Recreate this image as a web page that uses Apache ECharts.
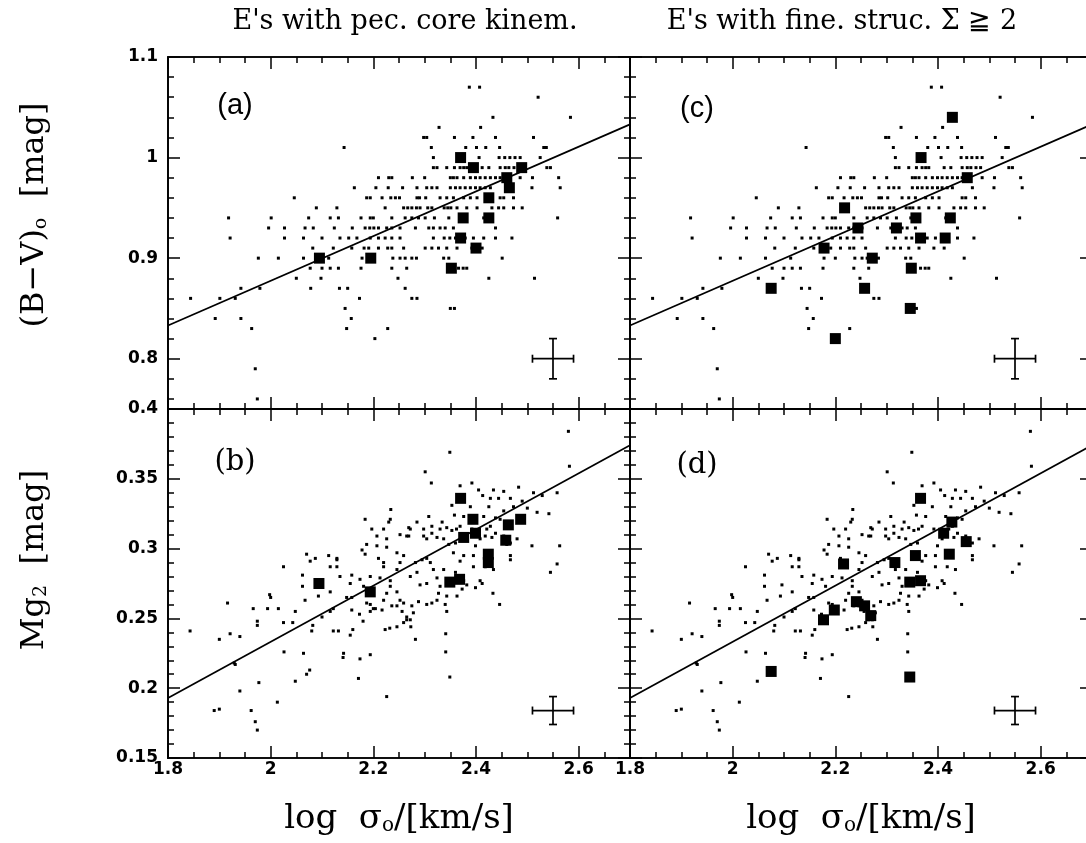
<!DOCTYPE html>
<html><head><meta charset="utf-8">
<script src="https://cdn.jsdelivr.net/npm/echarts@6/dist/echarts.min.js"></script>
<style>html,body{margin:0;padding:0;background:#fff}#c{width:1086px;height:843px}</style>
</head><body><div id="c"></div>
<script>
// ---------- axes / ticks ----------
const xRange = [1.8, 2.7];
const bvRange = [0.75, 1.1];
const mgRange = [0.15, 0.4];
const xMajorTicks = [1.8, 2.0, 2.2, 2.4, 2.6];
const xMinorTicks = [1.85, 1.9, 1.95, 2.05, 2.1, 2.15, 2.25, 2.3, 2.35, 2.45, 2.5, 2.55, 2.65];
const bvMajorTicks = [0.8, 0.9, 1.0, 1.1];
const bvMinorTicks = [0.76, 0.78, 0.82, 0.84, 0.86, 0.88, 0.92, 0.94, 0.96, 0.98, 1.02, 1.04, 1.06, 1.08];
const mgMajorTicks = [0.15, 0.2, 0.25, 0.3, 0.35, 0.4];
const mgMinorTicks = [0.16, 0.17, 0.18, 0.19, 0.21, 0.22, 0.23, 0.24, 0.26, 0.27, 0.28, 0.29, 0.31, 0.32, 0.33, 0.34, 0.36, 0.37, 0.38, 0.39];

// ---------- background sample (B-V), values quantised in rows ----------
const bvFieldRows = [1.07, 1.06, 1.04, 1.03, 1.02, 1.01, 1.00, 0.99, 0.98, 0.97, 0.96, 0.95, 0.94, 0.93, 0.92, 0.91, 0.90, 0.89, 0.88, 0.87, 0.86, 0.85, 0.84, 0.83, 0.82, 0.79, 0.76];
const bvFieldX = [
  [2.387, 2.407],
  [2.521],
  [2.433, 2.584],
  [2.328, 2.409],
  [2.298, 2.304, 2.358, 2.394, 2.438, 2.512],
  [2.143, 2.313, 2.380, 2.401, 2.419, 2.446, 2.532, 2.537],
  [2.317, 2.406, 2.445, 2.456, 2.466, 2.476, 2.486, 2.525],
  [2.317, 2.324, 2.343, 2.358, 2.369, 2.376, 2.382, 2.412, 2.425, 2.447, 2.457, 2.464, 2.474, 2.483, 2.538, 2.545],
  [2.210, 2.230, 2.236, 2.276, 2.300, 2.350, 2.356, 2.363, 2.376, 2.389, 2.399, 2.408, 2.418, 2.428, 2.438, 2.447, 2.486, 2.510, 2.561],
  [2.163, 2.205, 2.229, 2.257, 2.285, 2.304, 2.314, 2.324, 2.350, 2.360, 2.369, 2.379, 2.389, 2.399, 2.408, 2.418, 2.428, 2.467, 2.509, 2.564],
  [2.046, 2.187, 2.194, 2.217, 2.234, 2.243, 2.251, 2.285, 2.290, 2.302, 2.330, 2.343, 2.356, 2.376, 2.389, 2.402, 2.447, 2.454, 2.473],
  [2.089, 2.129, 2.223, 2.259, 2.267, 2.275, 2.284, 2.291, 2.306, 2.314, 2.338, 2.345, 2.351, 2.363, 2.382, 2.402, 2.431, 2.444, 2.454, 2.473, 2.490],
  [1.918, 2.001, 2.074, 2.116, 2.132, 2.176, 2.194, 2.200, 2.236, 2.262, 2.275, 2.288, 2.301, 2.319, 2.347, 2.415, 2.559],
  [1.996, 2.027, 2.067, 2.083, 2.124, 2.159, 2.184, 2.193, 2.201, 2.210, 2.226, 2.236, 2.252, 2.282, 2.308, 2.317, 2.330, 2.340, 2.356, 2.438],
  [1.921, 2.027, 2.064, 2.100, 2.135, 2.152, 2.168, 2.194, 2.210, 2.223, 2.236, 2.252, 2.317, 2.338, 2.349, 2.360, 2.379, 2.395, 2.415, 2.438, 2.470],
  [2.082, 2.122, 2.158, 2.182, 2.191, 2.210, 2.228, 2.236, 2.259, 2.301, 2.314, 2.327, 2.343, 2.363, 2.392, 2.412],
  [1.976, 2.015, 2.064, 2.113, 2.178, 2.200, 2.238, 2.252, 2.262, 2.275, 2.284, 2.337, 2.347, 2.451],
  [2.077, 2.100, 2.116, 2.132, 2.176, 2.236, 2.265, 2.366, 2.375, 2.382],
  [2.050, 2.098, 2.248, 2.425, 2.514],
  [1.942, 1.979, 2.078, 2.134, 2.150, 2.262],
  [1.844, 1.901, 1.931, 2.173, 2.275, 2.285],
  [2.145, 2.350, 2.358],
  [1.892, 1.942, 2.157],
  [1.963, 2.148, 2.228],
  [2.203],
  [1.970],
  [1.974]
];

// ---------- background sample (Mg2) ----------
const mgField = [
  [2.349,0.369],[2.301,0.355],[2.582,0.359],[2.580,0.384],[2.313,0.347],
  [2.369,0.345],[2.392,0.347],[2.405,0.342],[2.434,0.342],[2.483,0.344],[2.454,0.341],[2.413,0.338],[2.428,0.336],[2.444,0.336],[2.467,0.336],[2.490,0.334],[2.512,0.340],[2.529,0.338],[2.353,0.331],[2.389,0.330],[2.425,0.330],[2.473,0.330],[2.454,0.327],[2.500,0.329],[2.519,0.326],[2.542,0.325],[2.558,0.340],[2.358,0.324],[2.376,0.323],[2.415,0.323],[2.438,0.322],[2.447,0.321],[2.428,0.316],[2.421,0.314],[2.438,0.311],[2.392,0.314],[2.369,0.316],[2.362,0.314],[2.353,0.313],[2.343,0.315],[2.334,0.319],[2.314,0.316],[2.298,0.314],[2.285,0.319],[2.272,0.314],[2.269,0.309],[2.298,0.309],[2.304,0.307],[2.324,0.308],[2.337,0.307],[2.347,0.303],[2.360,0.304],[2.408,0.307],[2.418,0.309],[2.431,0.308],[2.454,0.309],[2.467,0.304],[2.509,0.302],[2.563,0.302],[2.558,0.289],[2.545,0.283],[2.467,0.292],[2.434,0.285],[2.418,0.287],[2.399,0.302],[2.395,0.295],[2.376,0.295],[2.369,0.291],[2.356,0.297],[2.395,0.287],[2.412,0.275],[2.399,0.272],[2.373,0.271],[2.363,0.266],[2.376,0.277],[2.343,0.266],[2.340,0.260],[2.343,0.255],[2.330,0.273],[2.324,0.279],[2.337,0.285],[2.311,0.290],[2.317,0.285],[2.304,0.293],[2.295,0.292],[2.282,0.290],[2.272,0.280],[2.285,0.283],[2.291,0.274],[2.304,0.275],[2.327,0.268],[2.314,0.261],[2.304,0.260],[2.288,0.262],[2.275,0.259],[2.259,0.261],[2.256,0.255],[2.265,0.251],[2.272,0.249],[2.273,0.244],[2.282,0.235],[2.252,0.263],[2.246,0.269],[2.233,0.273],[2.226,0.268],[2.220,0.263],[2.236,0.259],[2.246,0.259],[2.217,0.256],[2.204,0.257],[2.194,0.260],[2.187,0.261],[2.158,0.256],[2.158,0.265],[2.158,0.281],[2.181,0.273],[2.174,0.278],[2.194,0.280],[2.213,0.279],[2.233,0.277],[2.246,0.285],[2.252,0.290],[2.259,0.295],[2.246,0.297],[2.226,0.301],[2.207,0.302],[2.220,0.290],[2.220,0.287],[2.210,0.293],[2.178,0.299],[2.184,0.296],[2.187,0.303],[2.207,0.309],[2.220,0.314],[2.226,0.307],[2.252,0.310],[2.265,0.309],[2.269,0.315],[2.233,0.321],[2.230,0.319],[2.234,0.328],[2.184,0.321],[2.197,0.314],[2.308,0.323],[2.314,0.311],[2.330,0.314],
  [2.070,0.296],[2.087,0.293],[2.113,0.295],[2.129,0.293],[2.129,0.292],[2.129,0.287],[2.116,0.287],[2.077,0.291],[2.062,0.281],[2.062,0.273],[2.025,0.287],[2.067,0.263],[2.096,0.274],[2.093,0.266],[2.116,0.269],[2.135,0.280],[2.148,0.265],[2.155,0.275],[2.122,0.257],[2.116,0.255],[2.100,0.251],[2.082,0.245],[2.080,0.241],[2.122,0.241],[2.132,0.241],[2.155,0.238],[2.160,0.242],[2.173,0.253],[2.180,0.248],[2.194,0.255],[2.200,0.257],[2.223,0.242],[2.232,0.243],[2.246,0.244],[2.259,0.247],[2.265,0.249],[2.278,0.254],[2.324,0.263],[2.341,0.239],[2.341,0.226],[2.349,0.208],[2.360,0.283],[2.373,0.279],[2.382,0.274],[2.408,0.277],[2.433,0.268],[2.446,0.260],[2.467,0.295],[2.460,0.303],[2.480,0.307],
  [1.843,0.241],[1.900,0.235],[1.916,0.261],[1.921,0.239],[1.940,0.237],[1.966,0.257],[1.974,0.248],[1.974,0.245],[1.998,0.267],[2.000,0.265],[1.994,0.257],[2.015,0.257],[2.025,0.247],[2.048,0.255],[2.043,0.247],[2.026,0.226],[2.064,0.225],[2.142,0.225],[2.141,0.222],[2.174,0.221],[2.194,0.224],[1.929,0.218],[1.931,0.217],[1.977,0.204],[1.940,0.198],[1.890,0.184],[1.900,0.185],[1.962,0.184],[1.970,0.176],[1.974,0.170],[2.013,0.190],[2.048,0.205],[2.070,0.210],[2.076,0.213],[2.171,0.207],[2.226,0.194]
];

// ---------- highlighted galaxies ----------
const bvPec = [[2.095,0.90],[2.195,0.90],[2.370,1.00],[2.395,0.99],[2.460,0.98],[2.489,0.99],[2.465,0.97],[2.425,0.96],[2.375,0.94],[2.425,0.94],[2.370,0.92],[2.400,0.91],[2.352,0.89]];
const mgPec = [[2.094,0.275],[2.194,0.269],[2.370,0.336],[2.394,0.321],[2.463,0.317],[2.487,0.321],[2.376,0.308],[2.399,0.311],[2.458,0.306],[2.424,0.296],[2.424,0.290],[2.349,0.276],[2.368,0.278]];
const bvFine = [[2.428,1.04],[2.367,1.00],[2.457,0.98],[2.218,0.95],[2.244,0.93],[2.319,0.93],[2.357,0.94],[2.424,0.94],[2.366,0.92],[2.414,0.92],[2.178,0.91],[2.272,0.90],[2.348,0.89],[2.075,0.87],[2.257,0.87],[2.346,0.85],[2.200,0.82]];
const mgFine = [[2.366,0.336],[2.427,0.319],[2.411,0.311],[2.455,0.305],[2.356,0.295],[2.422,0.296],[2.316,0.290],[2.216,0.289],[2.345,0.276],[2.366,0.277],[2.241,0.262],[2.257,0.259],[2.269,0.252],[2.198,0.256],[2.177,0.249],[2.075,0.212],[2.345,0.208]];

// ---------- fit lines and typical error bars ----------
const fitBV = [[1.8,0.833],[2.7,1.033]];
const fitMg = [[1.8,0.193],[2.7,0.374]];
const errBV = [[2.55,0.80,0.04,0.02]];
const errMg = [[2.55,0.184,0.04,0.01]];

// ---------- text ----------
const panelTitles = ["E's with pec. core kinem.", "E's with fine. struc. \u03A3 \u2267 2"];
const panelTags = ['(a)','(b)','(c)','(d)'];
const yNames = ['{t|(B\u2212V)}{s|o}{t|  [mag]}', '{t|Mg}{s|2}{t|  [mag]}'];
const xName = '{t|log  \u03C3}{s|o}{t|/[km/s]}';

// build background (B-V) pairs from rows
const bvField = [];
bvFieldRows.forEach((y,i)=>bvFieldX[i].forEach(x=>bvField.push([x,y])));

const grids = [
  {left:168, top:57,  width:462, height:352},
  {left:168, top:409, width:462, height:349},
  {left:630, top:57,  width:462, height:352},
  {left:630, top:409, width:462, height:349}
];
const isBV = [true,false,true,false];
const tickFont = {fontFamily:'DejaVu Sans', fontWeight:'bold', fontSize:17, color:'#000'};
const black = '#000';

const xAxes = [], yAxes = [];
for (let g=0; g<4; g++){
  ['bottom','top'].forEach(pos=>{
    [true,false].forEach(major=>{
      const ax = {
        type:'value', gridIndex:g, position:pos, min:xRange[0], max:xRange[1],
        axisLine:{show:true, onZero:false, lineStyle:{color:black, width:1.7}},
        axisTick:{show:true, inside:true, length: major?12:6, customValues: major?xMajorTicks:xMinorTicks, lineStyle:{color:black, width:1.5}},
        axisLabel:Object.assign({show: major && pos==='bottom' && !isBV[g], customValues:xMajorTicks, margin:3}, tickFont),
        splitLine:{show:false}, minorTick:{show:false}
      };
      if (major && pos==='bottom' && !isBV[g]){
        ax.name = xName;
        ax.nameLocation = 'middle';
        ax.nameGap = 44;
        ax.nameTextStyle = {rich:{t:{fontFamily:'DejaVu Serif', fontSize:34, color:black}, s:{fontFamily:'DejaVu Serif', fontSize:20, color:black, verticalAlign:'bottom'}}};
      }
      xAxes.push(ax);
    });
  });
  ['left','right'].forEach(pos=>{
    [true,false].forEach(major=>{
      const rng = isBV[g]?bvRange:mgRange;
      yAxes.push({
        type:'value', gridIndex:g, position:pos, min:rng[0], max:rng[1],
        axisLine:{show:true, onZero:false, lineStyle:{color:black, width:1.7}},
        axisTick:{show:true, inside:true, length: major?12:6,
          customValues: major?(isBV[g]?bvMajorTicks:mgMajorTicks):(isBV[g]?bvMinorTicks:mgMinorTicks),
          lineStyle:{color:black, width:1.5}},
        axisLabel:Object.assign({show: major && pos==='left' && g<2, customValues: isBV[g]?bvMajorTicks:mgMajorTicks, margin:10}, tickFont),
        splitLine:{show:false}, minorTick:{show:false}
      });
    });
  });
}

const highlighted = [bvPec, mgPec, bvFine, mgFine];
const series = [];
function errRender(params, api){
  const x=api.value(0), y=api.value(1), dx=api.value(2), dy=api.value(3);
  const l=api.coord([x-dx,y]), r=api.coord([x+dx,y]), t=api.coord([x,y+dy]), b=api.coord([x,y-dy]);
  const c=4, st={stroke:black, lineWidth:1.7};
  return {type:'group', children:[
    {type:'line', shape:{x1:l[0],y1:l[1],x2:r[0],y2:r[1]}, style:st},
    {type:'line', shape:{x1:t[0],y1:t[1],x2:b[0],y2:b[1]}, style:st},
    {type:'line', shape:{x1:l[0],y1:l[1]-c,x2:l[0],y2:l[1]+c}, style:st},
    {type:'line', shape:{x1:r[0],y1:r[1]-c,x2:r[0],y2:r[1]+c}, style:st},
    {type:'line', shape:{x1:t[0]-c,y1:t[1],x2:t[0]+c,y2:t[1]}, style:st},
    {type:'line', shape:{x1:b[0]-c,y1:b[1],x2:b[0]+c,y2:b[1]}, style:st}
  ]};
}
for (let g=0; g<4; g++){
  const xi=g*4, yi=g*4;
  series.push({type:'scatter', xAxisIndex:xi, yAxisIndex:yi, data: isBV[g]?bvField:mgField, symbol:'rect', symbolSize:3, itemStyle:{color:black, opacity:1}, silent:true});
  series.push({type:'line', xAxisIndex:xi, yAxisIndex:yi, data: isBV[g]?fitBV:fitMg, showSymbol:false, symbol:'none', lineStyle:{color:black, width:1.7, opacity:1}, silent:true});
  series.push({type:'scatter', xAxisIndex:xi, yAxisIndex:yi, data: highlighted[g], symbol:'rect', symbolSize:11, itemStyle:{color:black, opacity:1}, silent:true, z:3});
  series.push({type:'custom', xAxisIndex:xi, yAxisIndex:yi, data: isBV[g]?errBV:errMg, renderItem:errRender, silent:true});
}

const tagPos = [[235,106],[235,462],[697,109],[697,465]];
const graphic = [
  {type:'text', x:405, y:22, style:{text:panelTitles[0], fontFamily:'DejaVu Serif', fontSize:27, fill:black, align:'center', verticalAlign:'middle'}},
  {type:'text', x:842, y:22, style:{text:panelTitles[1], fontFamily:'DejaVu Serif', fontSize:27, fill:black, align:'center', verticalAlign:'middle'}},
  {type:'text', x:35, y:215, rotation:Math.PI/2, style:{text:yNames[0], align:'center', verticalAlign:'middle',
    rich:{t:{fontFamily:'DejaVu Serif', fontSize:32, fill:black}, s:{fontFamily:'DejaVu Serif', fontSize:19, fill:black, verticalAlign:'bottom'}}}},
  {type:'text', x:35, y:560, rotation:Math.PI/2, style:{text:yNames[1], align:'center', verticalAlign:'middle',
    rich:{t:{fontFamily:'DejaVu Serif', fontSize:32, fill:black}, s:{fontFamily:'DejaVu Serif', fontSize:19, fill:black, verticalAlign:'bottom'}}}}
];
panelTags.forEach((t,i)=>{
  graphic.push({type:'text', x:tagPos[i][0], y:tagPos[i][1], style:{text:t, fontFamily: (i%2===0)?'Liberation Sans':'DejaVu Serif', fontSize:29, fill:black, align:'center', verticalAlign:'middle'}});
});

const chart = echarts.init(document.getElementById('c'), null, {renderer:'canvas'});
chart.setOption({
  animation:false,
  backgroundColor:'#fff',
  grid: grids.map(g=>Object.assign({containLabel:false, outerBoundsMode:'none'}, g)),
  xAxis: xAxes,
  yAxis: yAxes,
  series: series,
  graphic: graphic
});
</script></body></html>
